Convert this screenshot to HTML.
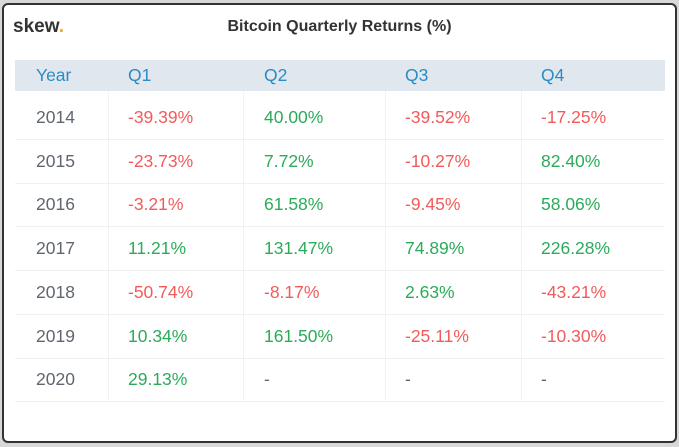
<!DOCTYPE html><html><head><style>
body{margin:0;width:679px;height:447px;background:#d8d8d8;position:relative;font-family:"Liberation Sans",sans-serif;overflow:hidden}
.box{position:absolute;left:2px;top:3px;width:671px;height:436px;background:#fff;border:2px solid #333;border-radius:6px}
.logo{position:absolute;left:13px;top:16px;font-size:19px;font-weight:bold;color:#333}
.logo span{color:#f5a623}
.title{position:absolute;left:0;width:679px;top:18px;text-align:center;font-size:16px;font-weight:bold;color:#333}
.hdr{position:absolute;left:15px;top:60px;width:650px;height:31px;background:#e1e7ef}
.t{position:absolute;font-size:17.5px;line-height:20px}
.h{color:#2b8cc4}
.y{color:#5f6670}.r{color:#f25b5b}.g{color:#2bab5a}.d{color:#666}
.hl{position:absolute;left:15px;width:650px;height:1px;background:#f0f0f0}
.vl{position:absolute;width:1px;background:#f2f2f2;top:91px;height:309px}
</style></head><body>
<div class="box"></div>
<div class="logo">skew<span>.</span></div>
<div class="title">Bitcoin Quarterly Returns (%)</div>
<div class="hdr"></div>
<div class="t h" style="left:36px;top:65px">Year</div>
<div class="t h" style="left:128px;top:65px">Q1</div>
<div class="t h" style="left:264px;top:65px">Q2</div>
<div class="t h" style="left:405px;top:65px">Q3</div>
<div class="t h" style="left:541px;top:65px">Q4</div>
<div class="vl" style="left:108px"></div><div class="vl" style="left:243px"></div><div class="vl" style="left:385px"></div><div class="vl" style="left:521px"></div>
<div id="rows"></div>
<script>
var d=[["2014","-39.39%","40.00%","-39.52%","-17.25%"],["2015","-23.73%","7.72%","-10.27%","82.40%"],["2016","-3.21%","61.58%","-9.45%","58.06%"],["2017","11.21%","131.47%","74.89%","226.28%"],["2018","-50.74%","-8.17%","2.63%","-43.21%"],["2019","10.34%","161.50%","-25.11%","-10.30%"],["2020","29.13%","-","-","-"]];
var xs=[36,128,264,405,541],h="";
d.forEach(function(r,i){var cy=117+i*43.7;
r.forEach(function(v,j){var c=j==0?"y":v=="-"?"d":v[0]=="-"?"r":"g";h+='<div class="t '+c+'" style="left:'+xs[j]+'px;top:'+(cy-10)+'px">'+v+'</div>';});
h+='<div class="hl" style="top:'+(cy+22)+'px"></div>';});
document.getElementById("rows").innerHTML=h;
</script>
</body></html>
